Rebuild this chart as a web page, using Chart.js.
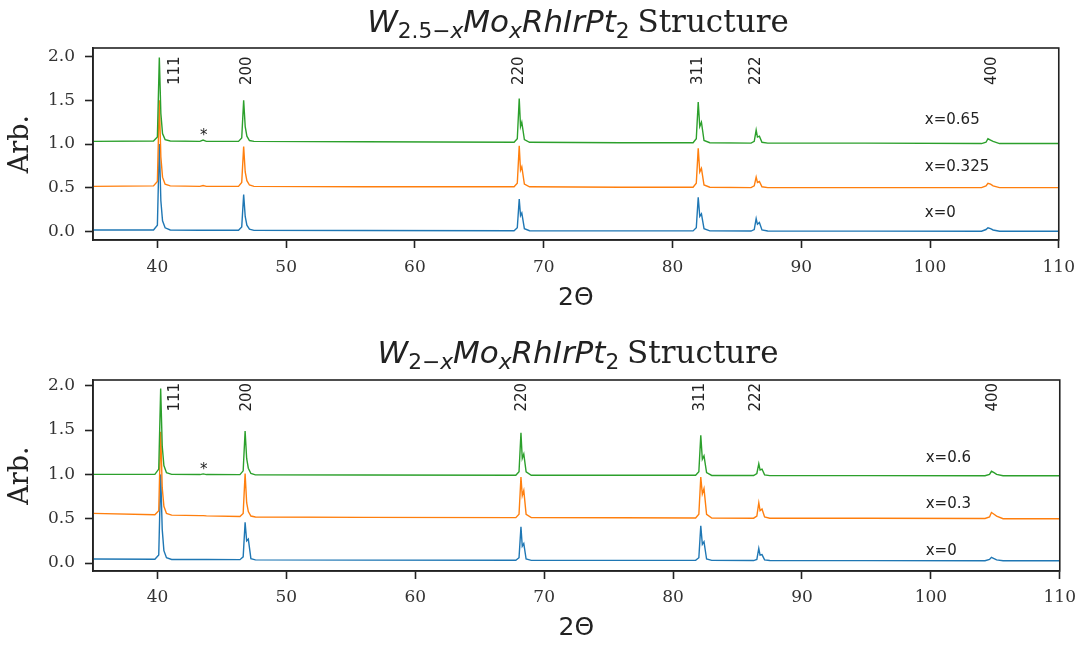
<!DOCTYPE html>
<html>
<head>
<meta charset="utf-8">
<script src="https://cdn.jsdelivr.net/npm/chart.js@4.4.1/dist/chart.umd.min.js"></script>
<style>
  body { margin: 0; background: #fff; }
  #page { position: relative; width: 1084px; height: 645px; overflow: hidden; background: #fff; }
  canvas { position: absolute; left: 0; }
  .title { position: absolute; left: 93px; width: 970px; text-align: center; font-size: 31px; line-height: 38px; color: #222; white-space: nowrap; }
  .title .m { font-family: 'DejaVu Sans'; font-style: italic; }
  .title sub { font-size: 0.7em; vertical-align: baseline; position: relative; top: 0.28em; font-style: normal; }
  .title sub i { font-style: italic; }
  .title .s { font-family: 'DejaVu Serif'; }
</style>
</head>
<body>
<div id="page">
  <canvas id="top-chart" width="1084" height="322" style="top:0"></canvas>
  <canvas id="bottom-chart" width="1084" height="323" style="top:322px"></canvas>
  <div class="title" style="top:2px"><span class="m">W<sub>2.5&minus;<i>x</i></sub>Mo<sub><i>x</i></sub>RhIrPt<sub>2</sub></span> <span class="s">Structure</span></div>
  <div class="title" style="top:333px"><span class="m">W<sub>2&minus;<i>x</i></sub>Mo<sub><i>x</i></sub>RhIrPt<sub>2</sub></span> <span class="s">Structure</span></div>
</div>
<script>
// axis ticks
const xTicks = [40, 50, 60, 70, 80, 90, 100, 110];
const yTicks = [0, 0.5, 1.0, 1.5, 2.0];
const hklLabels = ['111', '200', '220', '311', '222', '400'];

// W(2.5-x)Mo(x)RhIrPt2 patterns, offset by 0.5 each
const topTwoTheta = [35,
  39.7, 40.0, 40.15, 40.27, 40.4, 40.6, 41.0,
  43.3, 43.55, 43.8,
  46.3, 46.55, 46.7, 46.82, 46.95, 47.15, 47.5,
  56,
  67.7, 67.95, 68.1, 68.2, 68.3, 68.5, 68.9,
  76,
  81.6, 81.85, 82.0, 82.12, 82.25, 82.45, 82.9,
  86.1, 86.35, 86.5, 86.6, 86.75, 86.95, 87.4,
  95,
  104.0, 104.35, 104.5, 104.7, 104.9, 105.4,
  110];
const topX0 = [0.015,
  0.015, 0.07, 1.0, 0.35, 0.12, 0.04, 0.015,
  0.012, 0.012, 0.012,
  0.012, 0.05, 0.42, 0.17, 0.07, 0.025, 0.01,
  0.008,
  0.006, 0.04, 0.37, 0.18, 0.21, 0.03, 0.006,
  0.004,
  0.004, 0.04, 0.39, 0.17, 0.2, 0.03, 0.004,
  0.003, 0.02, 0.145, 0.08, 0.1, 0.015, 0.003,
  0.002,
  0.001, 0.02, 0.04, 0.03, 0.015, 0.0,
  0.0];
const topX0325 = [0.515,
  0.52, 0.57, 1.5, 0.85, 0.62, 0.54, 0.52,
  0.515, 0.525, 0.515,
  0.515, 0.56, 0.97, 0.68, 0.58, 0.53, 0.515,
  0.51,
  0.51, 0.55, 0.98, 0.7, 0.74, 0.54, 0.51,
  0.505,
  0.505, 0.55, 0.95, 0.68, 0.72, 0.53, 0.505,
  0.5, 0.52, 0.62, 0.56, 0.57, 0.51, 0.5,
  0.5,
  0.5, 0.52, 0.55, 0.54, 0.52, 0.5,
  0.5];
const topX065 = [1.03,
  1.035, 1.08, 1.99, 1.35, 1.12, 1.05, 1.035,
  1.03, 1.045, 1.03,
  1.03, 1.07, 1.5, 1.2, 1.09, 1.04, 1.03,
  1.025,
  1.02, 1.06, 1.52, 1.2, 1.25, 1.05, 1.02,
  1.015,
  1.015, 1.06, 1.48, 1.2, 1.25, 1.04, 1.015,
  1.01, 1.03, 1.16, 1.08, 1.09, 1.02, 1.01,
  1.01,
  1.005, 1.02, 1.06, 1.045, 1.03, 1.005,
  1.005];
const topNames = ['x=0', 'x=0.325', 'x=0.65'];

// W(2-x)Mo(x)RhIrPt2 patterns
const bottomTwoTheta = [35,
  39.8, 40.1, 40.25, 40.37, 40.5, 40.7, 41.1,
  43.3, 43.55, 43.8,
  46.4, 46.65, 46.8, 46.92, 47.05, 47.25, 47.6,
  56,
  67.8, 68.05, 68.2, 68.3, 68.42, 68.6, 69.0,
  76,
  81.75, 82.0, 82.15, 82.27, 82.4, 82.6, 83.0,
  86.25, 86.5, 86.65, 86.75, 86.9, 87.1, 87.5,
  95,
  104.2, 104.55, 104.7, 104.9, 105.1, 105.6,
  110];
const bottomX0 = [0.045,
  0.042, 0.09, 1.0, 0.38, 0.14, 0.06, 0.04,
  0.04, 0.04, 0.04,
  0.038, 0.07, 0.46, 0.25, 0.27, 0.05, 0.035,
  0.033,
  0.032, 0.06, 0.41, 0.19, 0.22, 0.045, 0.03,
  0.03,
  0.03, 0.06, 0.42, 0.21, 0.24, 0.045, 0.03,
  0.028, 0.04, 0.165, 0.09, 0.095, 0.035, 0.028,
  0.027,
  0.026, 0.04, 0.065, 0.05, 0.035, 0.025,
  0.025];
const bottomX03 = [0.56,
  0.545, 0.59, 1.48, 0.85, 0.64, 0.56, 0.54,
  0.535, 0.535, 0.532,
  0.525, 0.56, 1.01, 0.68, 0.58, 0.53, 0.52,
  0.515,
  0.512, 0.55, 0.97, 0.76, 0.82, 0.55, 0.512,
  0.51,
  0.508, 0.55, 0.97, 0.78, 0.84, 0.55, 0.508,
  0.506, 0.53, 0.68, 0.59, 0.61, 0.52, 0.505,
  0.505,
  0.503, 0.52, 0.57, 0.55, 0.53, 0.5,
  0.5];
const bottomX06 = [1.0,
  1.0, 1.06, 1.97, 1.32, 1.1, 1.02, 1.0,
  0.998, 1.006, 0.998,
  0.997, 1.04, 1.49, 1.18, 1.07, 1.01, 0.995,
  0.993,
  0.99, 1.03, 1.47, 1.18, 1.23, 1.03, 0.99,
  0.99,
  0.99, 1.03, 1.44, 1.17, 1.21, 1.02, 0.988,
  0.987, 1.01, 1.12, 1.05, 1.06, 0.995, 0.986,
  0.986,
  0.985, 1.0, 1.035, 1.02, 1.0, 0.985,
  0.985];
const bottomNames = ['x=0', 'x=0.3', 'x=0.6'];

const colors = ['#1f77b4', '#ff7f0e', '#2ca02c'];

// draws the frame, hkl labels, star and series names
const annotations = {
    id: 'annotations',
    afterDatasetsDraw(chart, args, opts) {
        const { ctx, chartArea, scales: { x, y } } = chart;
        ctx.save();
        ctx.fillStyle = '#222';
        ctx.font = '15px "DejaVu Sans"';

        // rotated hkl labels
        opts.hklX.forEach((v, i) => {
            ctx.save();
            ctx.translate(x.getPixelForValue(v), y.getPixelForValue(opts.hklY));
            ctx.rotate(-Math.PI / 2);
            ctx.textAlign = 'center';
            ctx.textBaseline = 'middle';
            ctx.fillText(hklLabels[i], 0, 0);
            ctx.restore();
        });

        // impurity marker
        ctx.textAlign = 'center';
        ctx.textBaseline = 'middle';
        ctx.fillText('*', x.getPixelForValue(opts.star[0]), y.getPixelForValue(opts.star[1]));

        // composition labels
        ctx.textAlign = 'left';
        opts.names.forEach((name, i) => {
            ctx.fillText(name, x.getPixelForValue(opts.nameX), y.getPixelForValue(opts.nameY[i]));
        });

        // box around the plot
        ctx.strokeStyle = '#222';
        ctx.lineWidth = 1.6;
        ctx.strokeRect(chartArea.left, chartArea.top, chartArea.right - chartArea.left, chartArea.bottom - chartArea.top);
        ctx.restore();
    }
};

function buildChart(canvasId, twoTheta, series, cfg) {
    const ctx = document.getElementById(canvasId).getContext('2d');
    // green drawn on top, blue at the bottom
    const datasets = series.map((ys, i) => ({
        label: cfg.names[i],
        data: ys.map((v, j) => ({ x: twoTheta[j], y: v })),
        borderColor: colors[i],
        borderWidth: 1.4,
        pointRadius: 0,
        tension: 0,
        order: series.length - i
    }));

    return new Chart(ctx, {
        type: 'line',
        data: { datasets },
        plugins: [annotations],
        options: {
            responsive: false,
            animation: false,
            devicePixelRatio: 1,
            layout: { padding: { top: cfg.top, right: 21, left: 0, bottom: 0 } },
            plugins: {
                legend: { display: false },
                tooltip: { enabled: false },
                annotations: cfg.text
            },
            scales: {
                x: {
                    type: 'linear',
                    min: 35,
                    max: 110,
                    afterBuildTicks: scale => { scale.ticks = xTicks.map(v => ({ value: v })); },
                    afterFit: scale => { scale.height = cfg.xHeight; },
                    grid: { drawOnChartArea: false, drawTicks: true, tickLength: 8, tickWidth: 1.6, tickColor: '#222' },
                    border: { display: true, color: '#222', width: 1.6 },
                    ticks: {
                        padding: cfg.tickPad,
                        maxRotation: 0,
                        color: '#333',
                        font: { family: 'DejaVu Serif', size: 17 }
                    },
                    title: {
                        display: true,
                        text: '2\u0398',
                        color: '#222',
                        font: { family: 'DejaVu Sans', size: 25 },
                        padding: { top: 0, bottom: cfg.titlePad }
                    }
                },
                y: {
                    min: cfg.yMin,
                    max: cfg.yMax,
                    afterBuildTicks: scale => { scale.ticks = yTicks.map(v => ({ value: v })); },
                    afterFit: scale => { scale.width = 93; },
                    grid: { drawOnChartArea: false, drawTicks: true, tickLength: 8, tickWidth: 1.6, tickColor: '#222' },
                    border: { display: true, color: '#222', width: 1.6 },
                    ticks: {
                        padding: 10,
                        color: '#333',
                        font: { family: 'DejaVu Serif', size: 17 },
                        callback: v => v.toFixed(1)
                    },
                    title: {
                        display: true,
                        text: 'Arb.',
                        color: '#222',
                        font: { family: 'DejaVu Serif', size: 27 },
                        padding: { top: 5, bottom: 0 }
                    }
                }
            }
        }
    });
}

document.addEventListener('DOMContentLoaded', function () {
    buildChart('top-chart', topTwoTheta, [topX0, topX0325, topX065], {
        names: topNames,
        top: 48,
        xHeight: 82,
        tickPad: 9,
        titlePad: 9,
        yMin: -0.1,
        yMax: 2.1,
        text: {
            names: topNames,
            nameX: 99.6,
            nameY: [0.21, 0.737, 1.275],
            hklX: [41.4, 46.93, 68.12, 82.0, 86.5, 104.8],
            hklY: 1.84,
            star: [43.6, 1.09]
        }
    });

    buildChart('bottom-chart', bottomTwoTheta, [bottomX0, bottomX03, bottomX06], {
        names: bottomNames,
        top: 58,
        xHeight: 74,
        tickPad: 8,
        titlePad: 2,
        yMin: -0.09,
        yMax: 2.065,
        text: {
            names: bottomNames,
            nameX: 99.6,
            nameY: [0.135, 0.666, 1.185],
            hklX: [41.4, 46.93, 68.3, 82.1, 86.45, 104.85],
            hklY: 1.87,
            star: [43.6, 1.05]
        }
    });
});
</script>
</body>
</html>
